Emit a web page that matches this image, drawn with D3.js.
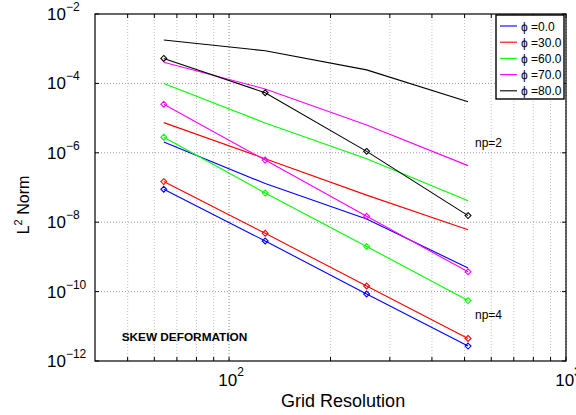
<!DOCTYPE html>
<html>
<head>
<meta charset="utf-8">
<script src="https://cdn.jsdelivr.net/npm/d3@7"></script>
<style>
  body { margin: 0; background: #fff; }
  text { font-family: "Liberation Sans", Arial, Helvetica, sans-serif; }
</style>
</head>
<body>
<div id="chart"></div>
<script>
/* DATA */
const resolution = [64, 128, 256, 512];
const phiLabels = ["0.0", "30.0", "60.0", "70.0", "80.0"];
const lineColors = ["#0000ff", "#ff0000", "#00ff00", "#ff00ff", "#000000"];

// np=2 (no markers), one array per phi
const np2Blue    = [2.04e-6, 1.30e-7, 1.23e-8, 4.79e-10];
const np2Red     = [7.41e-6, 6.76e-7, 6.03e-8, 6.03e-9];
const np2Green   = [1.00e-4, 7.24e-6, 6.76e-7, 4.17e-8];
const np2Magenta = [4.07e-4, 6.92e-5, 6.31e-6, 4.27e-7];
const np2Black   = [1.78e-3, 8.71e-4, 2.45e-4, 2.95e-5];

// np=4 (diamond markers)
const np4Blue    = [8.91e-8, 2.88e-9, 8.51e-11, 2.69e-12];
const np4Red     = [1.48e-7, 4.79e-9, 1.45e-10, 4.47e-12];
const np4Green   = [2.82e-6, 6.92e-8, 2.00e-9, 5.50e-11];
const np4Magenta = [2.51e-5, 6.17e-7, 1.48e-8, 3.72e-10];
const np4Black   = [5.25e-4, 5.37e-5, 1.10e-6, 1.55e-8];

const xTicksMajor = [100, 1000];
const yTicks = [1e-2, 1e-4, 1e-6, 1e-8, 1e-10, 1e-12];

/* CONSTANTS */
const width = 576, height = 415,
  margin = {top: 14, right: 10, bottom: 54, left: 95},
  innerWidth = width - margin.left - margin.right,
  innerHeight = height - margin.top - margin.bottom;

const np2Series = [np2Blue, np2Red, np2Green, np2Magenta, np2Black];
const np4Series = [np4Blue, np4Red, np4Green, np4Magenta, np4Black];

/* SCALES */
const xScale = d3.scaleLog().domain([40, 1000]).range([0, innerWidth]);
const yScale = d3.scaleLog().domain([1e-12, 1e-2]).range([innerHeight, 0]);

// all minor + major ticks between 40 and 1000
const xTicksAll = xScale.ticks().filter(d => d >= 50);

/* ELEMENTS */
const svg = d3.select("#chart").append("svg")
  .attr("width", width)
  .attr("height", height);

const g = svg.append("g")
  .attr("transform", `translate(${margin.left},${margin.top})`);

// grid
g.selectAll("line.xgrid")
  .data(xTicksAll)
  .join("line")
    .attr("class", "xgrid")
    .attr("x1", d => xScale(d)).attr("x2", d => xScale(d))
    .attr("y1", 0).attr("y2", innerHeight)
    .attr("stroke", d => xTicksMajor.includes(d) ? "#888" : "#c4c4c4")
    .attr("stroke-width", 1)
    .attr("stroke-dasharray", "1 2");

g.selectAll("line.ygrid")
  .data(yTicks.slice(1, -1))
  .join("line")
    .attr("class", "ygrid")
    .attr("x1", 0).attr("x2", innerWidth)
    .attr("y1", d => yScale(d)).attr("y2", d => yScale(d))
    .attr("stroke", "#999")
    .attr("stroke-width", 1)
    .attr("stroke-dasharray", "1 2");

// lines
const line = d3.line()
  .x((d, i) => xScale(resolution[i]))
  .y(d => yScale(d));

g.selectAll("path.np2")
  .data(np2Series)
  .join("path")
    .attr("class", "np2")
    .attr("d", line)
    .attr("fill", "none")
    .attr("stroke", (d, i) => lineColors[i])
    .attr("stroke-width", 1.1);

g.selectAll("path.np4")
  .data(np4Series)
  .join("path")
    .attr("class", "np4")
    .attr("d", line)
    .attr("fill", "none")
    .attr("stroke", (d, i) => lineColors[i])
    .attr("stroke-width", 1.1);

// diamond markers on np=4
const diamond = d3.symbol().type(d3.symbolDiamond2).size(22);
np4Series.forEach((s, k) => {
  g.selectAll(`path.mk${k}`)
    .data(s)
    .join("path")
      .attr("class", `mk${k}`)
      .attr("d", diamond)
      .attr("transform", (d, i) => `translate(${xScale(resolution[i])},${yScale(d)})`)
      .attr("fill", "none")
      .attr("stroke", lineColors[k])
      .attr("stroke-width", 1.1);
});

// box
g.append("rect")
  .attr("width", innerWidth).attr("height", innerHeight)
  .attr("fill", "none").attr("stroke", "#000").attr("stroke-width", 1.2);

// inward ticks, x
const tickLen = 4;
[innerHeight, 0].forEach(y0 => {
  g.selectAll(null)
    .data(xTicksAll)
    .join("line")
      .attr("x1", d => xScale(d)).attr("x2", d => xScale(d))
      .attr("y1", y0).attr("y2", y0 === 0 ? tickLen : innerHeight - tickLen)
      .attr("stroke", "#000");
});
// inward ticks, y
[0, innerWidth].forEach(x0 => {
  g.selectAll(null)
    .data(yTicks)
    .join("line")
      .attr("y1", d => yScale(d)).attr("y2", d => yScale(d))
      .attr("x1", x0).attr("x2", x0 === 0 ? tickLen : innerWidth - tickLen)
      .attr("stroke", "#000");
});

// x tick labels
const xLab = g.selectAll("text.xtick")
  .data(xTicksMajor)
  .join("text")
    .attr("class", "xtick")
    .attr("x", d => xScale(d) + 2)
    .attr("y", innerHeight + 25)
    .attr("text-anchor", "middle")
    .attr("font-size", 17);
xLab.append("tspan").text("10");
xLab.append("tspan").attr("dy", -10).attr("font-size", 12).text(d => Math.round(Math.log10(d)));

// y tick labels
const yLab = g.selectAll("text.ytick")
  .data(yTicks)
  .join("text")
    .attr("class", "ytick")
    .attr("x", -48)
    .attr("y", d => yScale(d) + 6)
    .attr("font-size", 17);
yLab.append("tspan").text("10");
yLab.append("tspan").attr("dy", -9).attr("font-size", 12)
  .text(d => "\u2212" + Math.abs(Math.round(Math.log10(d))));

// axis labels
svg.append("text")
  .attr("x", margin.left + xScale(218))
  .attr("y", 407)
  .attr("text-anchor", "middle")
  .attr("font-size", 18)
  .text("Grid Resolution");

const yTitle = svg.append("text")
  .attr("transform", `translate(29,205) rotate(-90)`)
  .attr("text-anchor", "middle")
  .attr("font-size", 16);
yTitle.append("tspan").text("L");
yTitle.append("tspan").attr("dy", -7).attr("font-size", 11).text("2");
yTitle.append("tspan").attr("dy", 7).text(" Norm");

// annotations
g.append("text")
  .attr("x", xScale(537)).attr("y", yScale(1.47e-6))
  .attr("font-size", 12).text("np=2");
g.append("text")
  .attr("x", xScale(537)).attr("y", yScale(1.62e-11))
  .attr("font-size", 12).text("np=4");
g.append("text")
  .attr("x", xScale(48)).attr("y", yScale(3.8e-12))
  .attr("font-size", 11.8).attr("font-weight", "bold")
  .text("SKEW DEFORMATION");

// legend
const legend = svg.append("g").attr("transform", "translate(496,15)");
legend.append("rect")
  .attr("width", 68).attr("height", 84)
  .attr("fill", "#fff").attr("stroke", "#000").attr("stroke-width", 1.4);
const rows = legend.selectAll("g.row")
  .data(phiLabels)
  .join("g")
    .attr("class", "row")
    .attr("transform", (d, i) => `translate(0,${11 + i * 16.2})`);
rows.append("line")
  .attr("x1", 4).attr("x2", 21)
  .attr("stroke", (d, i) => lineColors[i]).attr("stroke-width", 1.1);
rows.append("text")
  .attr("x", 25).attr("y", 4.5)
  .attr("font-size", 12)
  .text(d => "\u03d5 =" + d);
</script>
</body>
</html>
